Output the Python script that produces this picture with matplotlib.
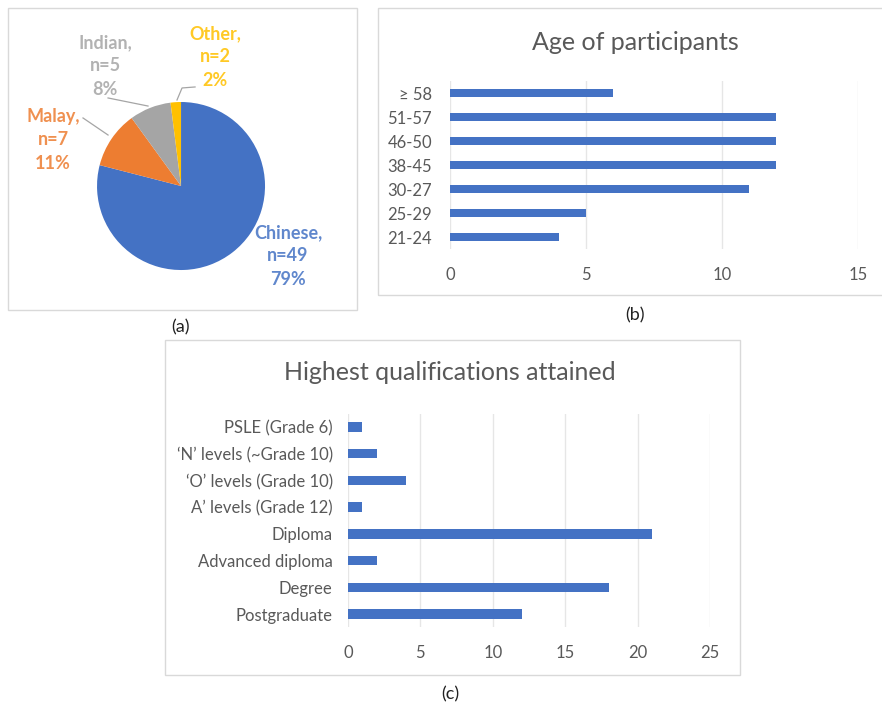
import matplotlib.pyplot as plt
from matplotlib.patches import Rectangle

plt.rcParams['font.family'] = ['Lato', 'DejaVu Sans']

# ethnicity pie
eth_names = ['Chinese', 'Malay', 'Indian', 'Other']
eth_n = [49, 7, 5, 2]
eth_pct = [79, 11, 8, 2]
eth_colors = ['#4472C4', '#ED7D31', '#A5A5A5', '#FFC000']

# age bars (bottom to top)
age_labels = ['21-24', '25-29', '30-27', '38-45', '46-50', '51-57', '\u2265 58']
age_counts = [4, 5, 11, 12, 12, 12, 6]

# qualification bars (bottom to top)
qual_labels = ['Postgraduate', 'Degree', 'Advanced diploma', 'Diploma',
               'A\u2019 levels (Grade 12)', '\u2018O\u2019 levels (Grade 10)',
               '\u2018N\u2019 levels (~Grade 10)', 'PSLE (Grade 6)']
qual_counts = [12, 18, 2, 21, 1, 4, 2, 1]

W, H = 882, 707
fig = plt.figure(figsize=(W / 100, H / 100), dpi=100)
bar_col = '#4472C4'
txt_col = '#595959'


def px_axes(x0, y0, x1, y1):
    return fig.add_axes([x0 / W, 1 - y1 / H, (x1 - x0) / W, (y1 - y0) / H])


def box(x0, y0, x1, y1):
    fig.patches.append(Rectangle((x0 / W, 1 - y1 / H), (x1 - x0) / W, (y1 - y0) / H,
                                 transform=fig.transFigure, fill=False,
                                 edgecolor='#D9D9D9', linewidth=1))


box(8, 8, 357, 310)
box(378, 8, 890, 295)
box(165, 340, 740, 675)

# (a) pie -- centre at (181, 186) px, radius 84 px
ax = px_axes(8, 8, 357, 310)
ax.pie(eth_pct, colors=eth_colors, startangle=90, counterclock=False,
       radius=1, wedgeprops=dict(linewidth=0))
ax.set_xlim(-2.06, 2.095)
ax.set_ylim(-1.476, 2.119)
ax.set_aspect('auto')
ax.axis('off')
label_pos = [(1.274, -0.833), (-1.524, 0.548), (-0.905, 1.43), (0.405, 1.536)]
for name, n, p, c, (lx, ly) in zip(eth_names, eth_n, eth_pct, eth_colors, label_pos):
    ax.text(lx, ly, f'{name},\nn={n}\n{p}%', color=c, fontsize=13, fontweight='bold',
            ha='center', va='center', linespacing=1.45, alpha=0.85)
# leader lines
leaders = [[(-1.167, 0.81), (-0.869, 0.607)],
           [(-0.869, 1.048), (-0.393, 0.952)],
           [(-0.048, 1.024), (0.012, 1.167), (0.167, 1.179)]]
for pts in leaders:
    ax.plot([p[0] for p in pts], [p[1] for p in pts], color='#A5A5A5', linewidth=0.9)


def bar_panel(ax, labels, counts, xmax, step, ypad):
    ax.barh(range(len(labels)), counts, height=0.35, color=bar_col, zorder=3)
    ax.set_xlim(0, xmax)
    ax.set_ylim(-0.5, len(labels) - 0.5)
    ax.set_yticks(range(len(labels)))
    ax.set_yticklabels(labels)
    ax.set_xticks(range(0, xmax + 1, step))
    ax.grid(axis='x', color='#E6E6E6', linewidth=1, zorder=0)
    for s in ax.spines.values():
        s.set_visible(False)
    ax.tick_params(length=0, colors=txt_col, labelsize=12)
    ax.tick_params(axis='x', pad=13)
    ax.tick_params(axis='y', pad=ypad)


# (b) age
ax = px_axes(450, 81, 858, 249)
bar_panel(ax, age_labels, age_counts, 15, 5, 13)
fig.text(635 / W, 1 - 42 / H, 'Age of participants', fontsize=18, color=txt_col,
         ha='center', va='center')

# (c) qualifications
ax = px_axes(348, 413.6, 710, 627.4)
bar_panel(ax, qual_labels, qual_counts, 25, 5, 11)
fig.text(450 / W, 1 - 372 / H, 'Highest qualifications attained', fontsize=18,
         color=txt_col, ha='center', va='center')

for lab, x, y in [('(a)', 181, 327), ('(b)', 635, 315), ('(c)', 450, 694)]:
    fig.text(x / W, 1 - y / H, lab, fontsize=13, color='#222222', ha='center', va='center')

fig.savefig('out.png', dpi=100)
